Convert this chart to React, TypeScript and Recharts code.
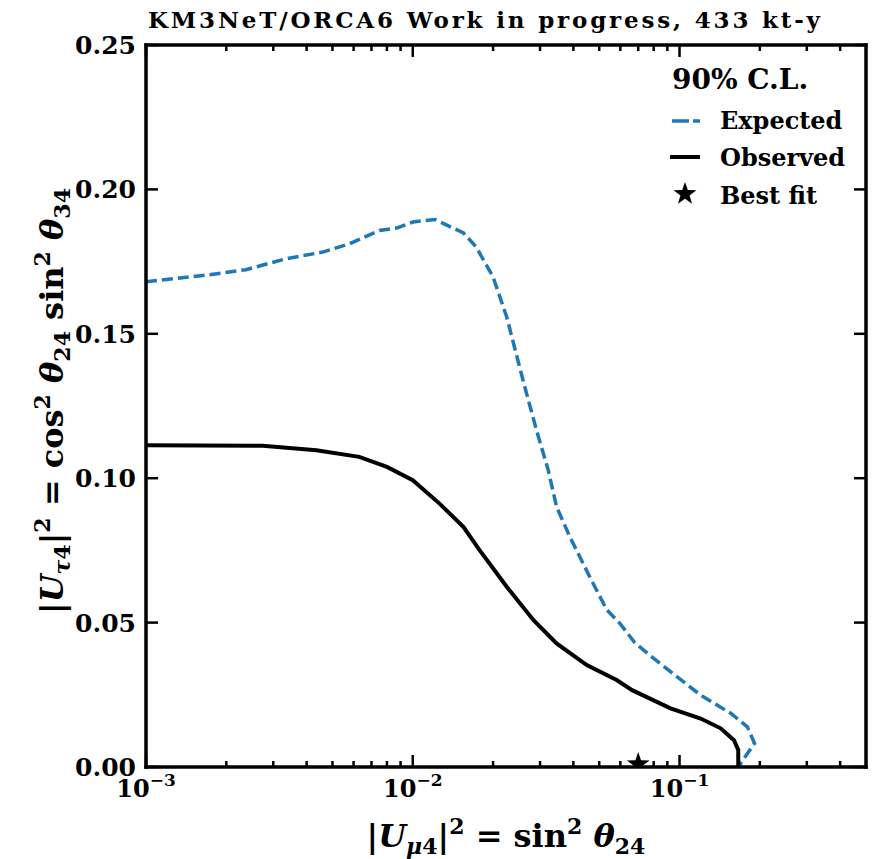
import { ComposedChart, Legend, Line, Scatter, XAxis, YAxis } from "recharts";

const expectedX = [
  0.001, 0.00168, 0.00237, 0.00335, 0.0046, 0.0058, 0.0075, 0.0087, 0.01,
  0.0121, 0.0155, 0.0173, 0.02, 0.0225, 0.0259, 0.0291, 0.0322, 0.0346,
  0.0388, 0.0461, 0.0533, 0.0598, 0.068, 0.08, 0.098, 0.12, 0.1556, 0.1796,
  0.191, 0.1696, 0.167,
];
const expectedY = [
  0.168, 0.1703, 0.1722, 0.176, 0.1783, 0.1812, 0.1858, 0.1866, 0.1887,
  0.1896, 0.1849, 0.18, 0.1697, 0.1558, 0.1339, 0.1166, 0.1028, 0.0901,
  0.0797, 0.0658, 0.0545, 0.0497, 0.043, 0.0376, 0.0312, 0.0249, 0.0186,
  0.0139, 0.0082, 0.0013, 0,
];

const observedX = [
  0.001, 0.00274, 0.00435, 0.0063, 0.008, 0.01, 0.0126, 0.0155, 0.0178,
  0.0225, 0.0283, 0.0346, 0.0449, 0.0581, 0.0664, 0.0925, 0.12, 0.1426, 0.16,
  0.166, 0.166,
];
const observedY = [
  0.1114, 0.1112, 0.1097, 0.1074, 0.1039, 0.0993, 0.0912, 0.0831, 0.0751,
  0.0624, 0.0509, 0.0428, 0.0353, 0.0301, 0.0266, 0.0203, 0.0168, 0.0134,
  0.0093, 0.0059, 0,
];

const bestFitX = [0.07];
const bestFitY = [0.001];

const xMajorTicks = [0.001, 0.01, 0.1];
const xMajorLabels = ["\u22123", "\u22122", "\u22121"];
const xMinorTicks = [
  0.002, 0.003, 0.004, 0.005, 0.006, 0.007, 0.008, 0.009, 0.02, 0.03, 0.04,
  0.05, 0.06, 0.07, 0.08, 0.09, 0.2, 0.3, 0.4,
];
const yTicks = [0, 0.05, 0.1, 0.15, 0.2, 0.25];
const yTickLabels = ["0.00", "0.05", "0.10", "0.15", "0.20", "0.25"];

const title = "KM3NeT/ORCA6 Work in progress, 433 kt-y";
const legendTitle = "90% C.L.";
const legendLabels = ["Expected", "Observed", "Best fit"];

const expected = expectedX.map((x, i) => ({ x, y: expectedY[i] }));
const observed = observedX.map((x, i) => ({ x, y: observedY[i] }));
const bestFit = bestFitX.map((x, i) => ({ x, y: bestFitY[i] }));
const xTicks = [...xMajorTicks, ...xMinorTicks].sort((a, b) => a - b);

const FONT = "'DejaVu Serif', serif";
const BLUE = "#1f77b4";
const frame = { stroke: "#000", strokeWidth: 3.5, strokeLinecap: "square" as const };

function starPath(cx: number, cy: number, r: number) {
  const pts: string[] = [];
  for (let k = 0; k < 10; k++) {
    const rad = k % 2 === 0 ? r : r * 0.4;
    const a = -Math.PI / 2 + (k * Math.PI) / 5;
    pts.push(`${cx + rad * Math.cos(a)},${cy + rad * Math.sin(a)}`);
  }
  return `M${pts.join("L")}Z`;
}

// ticks point inwards, so the line is drawn by hand from the axis line
function xTick(side: "bottom" | "top") {
  return (props: any) => {
    const { x, y, payload } = props;
    const i = xMajorTicks.indexOf(payload.value);
    const len = i >= 0 ? 12 : 6;
    const dir = side === "bottom" ? -1 : 1;
    return (
      <g>
        <line x1={x} x2={x} y1={y} y2={y + dir * len} stroke="#000" strokeWidth={2.5} />
        {side === "bottom" && i >= 0 && (
          <text
            x={x}
            y={y + 30}
            textAnchor="middle"
            fontFamily={FONT}
            fontWeight="bold"
            fontSize={24}
            fill="#000"
          >
            10
            <tspan dy={-11} fontSize={17}>
              {xMajorLabels[i]}
            </tspan>
          </text>
        )}
      </g>
    );
  };
}

function yTick(side: "left" | "right") {
  return (props: any) => {
    const { x, y, payload } = props;
    const i = yTicks.indexOf(payload.value);
    const dir = side === "left" ? 1 : -1;
    return (
      <g>
        <line x1={x} x2={x + dir * 12} y1={y} y2={y} stroke="#000" strokeWidth={2.5} />
        {side === "left" && (
          <text
            x={x - 10}
            y={y + 9}
            textAnchor="end"
            fontFamily={FONT}
            fontWeight="bold"
            fontSize={25}
            fill="#000"
          >
            {yTickLabels[i]}
          </text>
        )}
      </g>
    );
  };
}

function XLabel(props: any) {
  const vb = props.viewBox;
  return (
    <text
      x={vb.x + vb.width / 2}
      y={847}
      textAnchor="middle"
      fontFamily={FONT}
      fontWeight="bold"
      fontSize={32}
      fill="#000"
    >
      |<tspan fontStyle="italic">U</tspan>
      <tspan fontSize={22} dy={7} fontStyle="italic">
        μ
      </tspan>
      <tspan fontSize={22}>4</tspan>
      <tspan dy={-7}>|</tspan>
      <tspan fontSize={22} dy={-13}>
        2
      </tspan>
      <tspan dy={13}> = sin</tspan>
      <tspan fontSize={22} dy={-13}>
        2
      </tspan>
      <tspan dy={13} fontStyle="italic">
        {" θ"}
      </tspan>
      <tspan fontSize={22} dy={7}>
        24
      </tspan>
    </text>
  );
}

function YLabel(props: any) {
  const vb = props.viewBox;
  const cx = vb.x + 63;
  const cy = vb.y + vb.height / 2 - 5;
  return (
    <text
      x={cx}
      y={cy}
      transform={`rotate(-90 ${cx} ${cy})`}
      textAnchor="middle"
      fontFamily={FONT}
      fontWeight="bold"
      fontSize={32}
      fill="#000"
    >
      |<tspan fontStyle="italic">U</tspan>
      <tspan fontSize={22} dy={7} fontStyle="italic">
        τ
      </tspan>
      <tspan fontSize={22}>4</tspan>
      <tspan dy={-7}>|</tspan>
      <tspan fontSize={22} dy={-13}>
        2
      </tspan>
      <tspan dy={13}> = cos</tspan>
      <tspan fontSize={22} dy={-13}>
        2
      </tspan>
      <tspan dy={13} fontStyle="italic">
        {" θ"}
      </tspan>
      <tspan fontSize={22} dy={7}>
        24
      </tspan>
      <tspan dy={-7}> sin</tspan>
      <tspan fontSize={22} dy={-13}>
        2
      </tspan>
      <tspan dy={13} fontStyle="italic">
        {" θ"}
      </tspan>
      <tspan fontSize={22} dy={7}>
        34
      </tspan>
    </text>
  );
}

function TitleLabel(props: any) {
  const vb = props.viewBox;
  return (
    <text
      x={vb.x + 2}
      y={vb.y + vb.height - 17}
      fontFamily={FONT}
      fontWeight="bold"
      fontSize={23}
      fill="#000"
      textLength={672}
    >
      {title}
    </text>
  );
}

function LegendBox() {
  return (
    <svg width={214} height={165} style={{ display: "block" }}>
      <g fontFamily={FONT} fontWeight="bold" fill="#000">
        <text x={12} y={34} fontSize={28}>
          {legendTitle}
        </text>
        <line x1={12} x2={40} y1={66} y2={66} stroke={BLUE} strokeWidth={3.5} strokeDasharray="17 4" />
        <text x={60} y={74} fontSize={24}>
          {legendLabels[0]}
        </text>
        <line x1={10} x2={40} y1={102} y2={102} stroke="#000" strokeWidth={4} />
        <text x={60} y={111} fontSize={24}>
          {legendLabels[1]}
        </text>
        <path d={starPath(25, 139, 12)} fill="#000" />
        <text x={60} y={149} fontSize={24}>
          {legendLabels[2]}
        </text>
      </g>
    </svg>
  );
}

export default function App() {
  return (
    <div style={{ position: "absolute", left: 0, top: 0, width: 874, height: 859, background: "#fff" }}>
      <ComposedChart width={874} height={859} margin={{ top: 44, right: 7, bottom: 0, left: 0 }}>
        <XAxis
          xAxisId="bottom"
          dataKey="x"
          type="number"
          scale="log"
          domain={[0.001, 0.5]}
          allowDataOverflow
          ticks={xTicks}
          interval={0}
          tickSize={0}
          tickMargin={0}
          tickLine={false}
          tick={xTick("bottom")}
          axisLine={frame}
          height={92}
          label={XLabel}
        />
        <XAxis
          xAxisId="top"
          orientation="top"
          dataKey="x"
          type="number"
          scale="log"
          domain={[0.001, 0.5]}
          allowDataOverflow
          ticks={xTicks}
          interval={0}
          tickSize={0}
          tickMargin={0}
          tickLine={false}
          tick={xTick("top")}
          axisLine={frame}
          height={1}
          label={TitleLabel}
        />
        <YAxis
          yAxisId="left"
          dataKey="y"
          type="number"
          domain={[0, 0.25]}
          allowDataOverflow
          ticks={yTicks}
          interval={0}
          tickSize={0}
          tickMargin={0}
          tickLine={false}
          tick={yTick("left")}
          axisLine={frame}
          width={146}
          label={YLabel}
        />
        <YAxis
          yAxisId="right"
          orientation="right"
          dataKey="y"
          type="number"
          domain={[0, 0.25]}
          allowDataOverflow
          ticks={yTicks}
          interval={0}
          tickSize={0}
          tickMargin={0}
          tickLine={false}
          tick={yTick("right")}
          axisLine={frame}
          width={1}
        />
        <Line
          xAxisId="bottom"
          yAxisId="left"
          data={expected}
          dataKey="y"
          type="linear"
          stroke={BLUE}
          strokeWidth={3.5}
          strokeDasharray="11 5"
          dot={false}
          activeDot={false}
          isAnimationActive={false}
        />
        <Line
          xAxisId="bottom"
          yAxisId="left"
          data={observed}
          dataKey="y"
          type="linear"
          stroke="#000"
          strokeWidth={4}
          dot={false}
          activeDot={false}
          isAnimationActive={false}
        />
        <Scatter
          xAxisId="bottom"
          yAxisId="left"
          data={bestFit}
          dataKey="y"
          fill="#000"
          isAnimationActive={false}
          shape={(p: any) => <path d={starPath(p.cx, p.cy, 12)} fill="#000" />}
        />
        <Legend
          layout="horizontal"
          verticalAlign="middle"
          align="center"
          wrapperStyle={{ left: 660, top: 55, width: 214, height: 165 }}
          content={() => <LegendBox />}
        />
      </ComposedChart>
    </div>
  );
}
